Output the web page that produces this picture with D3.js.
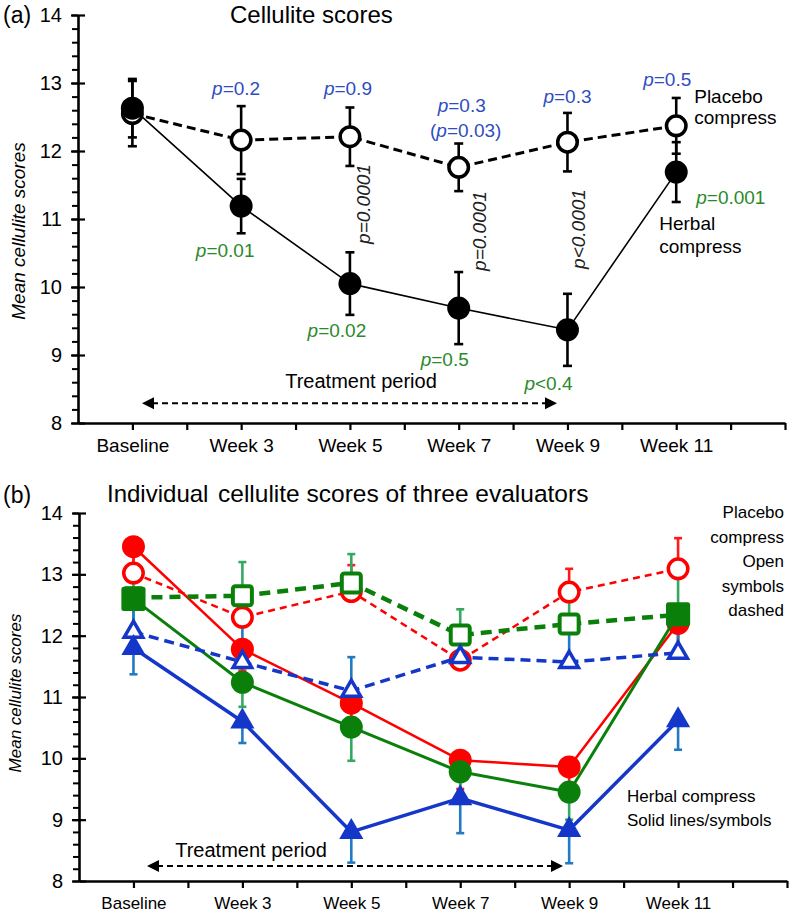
<!DOCTYPE html>
<html><head><meta charset="utf-8">
<script src="https://cdn.jsdelivr.net/npm/d3@7"></script>
<style>
body{margin:0;background:#fff}
svg{display:block}
text{font-family:"Liberation Sans",Arial,Helvetica,sans-serif}
</style>
</head><body>
<svg id="chart" width="792" height="915"></svg>
<script>
// ---------------- DATA ----------------
const categories = ["Baseline", "Week 3", "Week 5", "Week 7", "Week 9", "Week 11"];
const catSlots = [1, 3, 5, 7, 9, 11];          // slot of each category on a 0–13 axis
const yTickValues = [8, 9, 10, 11, 12, 13, 14];
const yMinorValues = d3.range(8, 14.001, 0.2);

// Panel (a): mean cellulite scores
const aPlacebo    = [12.55, 12.16, 12.21, 11.76, 12.13, 12.37];
const aPlaceboErr = [0.48, 0.50, 0.43, 0.35, 0.43, 0.41];
const aHerbal     = [12.63, 11.19, 10.05, 9.69, 9.37, 11.69];
const aHerbalErr  = [0.43, 0.40, 0.46, 0.53, 0.53, 0.44];

// Panel (b): three evaluators (herbal = solid/filled, lower error; placebo = dashed/open, upper error)
const bRedHerbal       = [13.45, 11.78, 10.90, 9.97, 9.86, 12.20];
const bRedHerbalErr    = [0.40, 0.35, 0.35, 0.47, 0.40, 0.45];
const bGreenHerbal     = [12.60, 11.24, 10.51, 9.78, 9.45, 12.35];
const bGreenHerbalErr  = [0.55, 0.40, 0.55, 0.40, 0.45, 0.60];
const bBlueHerbal      = [11.80, 10.60, 8.80, 9.35, 8.83, 10.62];
const bBlueHerbalErr   = [0.43, 0.35, 0.50, 0.57, 0.54, 0.48];
const bRedPlacebo      = [13.02, 12.30, 12.72, 11.60, 12.71, 13.09];
const bRedPlaceboErr   = [0.40, 0.40, 0.43, 0.45, 0.38, 0.50];
const bGreenPlacebo    = [12.62, 12.65, 12.86, 12.01, 12.19, 12.34];
const bGreenPlaceboErr = [0.35, 0.55, 0.47, 0.42, 0.45, 0.65];
const bBluePlacebo     = [12.06, 11.57, 11.10, 11.65, 11.57, 11.72];
const bBluePlaceboErr  = [0.50, 0.60, 0.55, 0.30, 0.50, 0.50];
const bGreenHerbalShapes = ["square", "circle", "circle", "circle", "circle", "square"];

// p-value annotations (panel a)
const placeboP   = ["p=0.2", "p=0.9", "p=0.3", "p=0.3", "p=0.5"];
const herbalP    = ["p=0.01", "p=0.02", "p=0.5", "p<0.4", "p=0.001"];
const betweenP   = ["p=0.0001", "p=0.0001", "p<0.0001"];

// ---------------- DRAWING ----------------
const svg = d3.select("#chart");
const FONT = '"Liberation Sans",Arial,Helvetica,sans-serif';
const BLUE_TXT = "#2f4dbf", GREEN_TXT = "#2a8a2a";

function pText(g, x, y, str, color, size, anchor) {
  const i = str.indexOf("p");
  const t = g.append("text").attr("x", x).attr("y", y)
    .attr("font-size", size).attr("fill", color).attr("text-anchor", anchor || "middle");
  if (i > 0) t.append("tspan").text(str.slice(0, i));
  t.append("tspan").attr("font-style", "italic").text("p");
  t.append("tspan").text(str.slice(i + 1));
  return t;
}

function axes(g, x, y, tickFont, labelFont) {
  // y minor ticks (left side only)
  const gm = g.append("g").attr("transform", `translate(${x(0)},0)`)
    .call(d3.axisLeft(y).tickValues(yMinorValues).tickSize(6).tickFormat(""));
  gm.select(".domain").remove();
  gm.selectAll(".tick line").attr("stroke-width", 2);
  // y major ticks (crossing)
  const gy = g.append("g").attr("transform", `translate(${x(0)},0)`)
    .call(d3.axisLeft(y).tickValues(yTickValues).tickSizeInner(7).tickSizeOuter(0)
      .tickPadding(9).tickFormat(d3.format("d")));
  gy.attr("font-family", FONT).attr("font-size", tickFont);
  gy.select(".domain").attr("stroke-width", 2.6);
  gy.selectAll(".tick line").attr("x1", 7).attr("x2", -7).attr("stroke-width", 2.2);
  // x axis
  const gx = g.append("g").attr("transform", `translate(0,${y(8)})`)
    .call(d3.axisBottom(x).tickValues(d3.range(1, 14)).tickSizeInner(7).tickSizeOuter(0)
      .tickPadding(8.5)
      .tickFormat(v => { const k = catSlots.indexOf(v); return k >= 0 ? categories[k] : ""; }));
  gx.attr("font-family", FONT).attr("font-size", labelFont);
  gx.select(".domain").attr("stroke-width", 2.6);
  gx.selectAll(".tick line").attr("stroke-width", 2.2);
}

function errorBars(g, x, y, vals, errs, dir, color, width, cap) {
  vals.forEach((v, i) => {
    const cx = x(catSlots[i]);
    const lo = dir > 0 ? v : v - errs[i];
    const hi = dir < 0 ? v : v + errs[i];
    g.append("line").attr("x1", cx).attr("x2", cx).attr("y1", y(lo)).attr("y2", y(hi))
      .attr("stroke", color).attr("stroke-width", width);
    if (dir >= 0) g.append("line").attr("x1", cx - cap).attr("x2", cx + cap)
      .attr("y1", y(hi)).attr("y2", y(hi)).attr("stroke", color).attr("stroke-width", width);
    if (dir <= 0) g.append("line").attr("x1", cx - cap).attr("x2", cx + cap)
      .attr("y1", y(lo)).attr("y2", y(lo)).attr("stroke", color).attr("stroke-width", width);
  });
}

function seriesLine(g, x, y, vals, color, width, dash) {
  const line = d3.line().x((d, i) => x(catSlots[i])).y(d => y(d));
  g.append("path").attr("d", line(vals)).attr("fill", "none")
    .attr("stroke", color).attr("stroke-width", width)
    .attr("stroke-dasharray", dash || null).attr("stroke-linejoin", "round");
}

function markers(g, x, y, vals, shapes, filled, color, size, sw) {
  vals.forEach((v, i) => {
    const cx = x(catSlots[i]), cy = y(v);
    const shape = Array.isArray(shapes) ? shapes[i] : shapes;
    const fill = filled ? color : "#fff";
    if (shape === "circle") {
      g.append("circle").attr("cx", cx).attr("cy", cy).attr("r", filled ? size : size - sw / 2)
        .attr("fill", fill).attr("stroke", filled ? "none" : color).attr("stroke-width", sw);
    } else if (shape === "square") {
      const s = filled ? size * 2.1 : size * 2 - sw;
      g.append("rect").attr("x", cx - s / 2).attr("y", cy - s / 2).attr("width", s).attr("height", s)
        .attr("rx", 2.5).attr("fill", fill).attr("stroke", filled ? "none" : color).attr("stroke-width", sw);
    } else {
      const side = filled ? size * 2.2 : size * 2.2 - sw * 1.6;
      const area = Math.sqrt(3) / 4 * side * side;
      g.append("path").attr("transform", `translate(${cx},${cy})`)
        .attr("d", d3.symbol(d3.symbolTriangle, area)())
        .attr("fill", fill).attr("stroke", filled ? "none" : color).attr("stroke-width", sw)
        .attr("stroke-linejoin", "miter");
    }
  });
}

// ===== Panel (a) =====
{
  const x = d3.scaleLinear().domain([0, 13]).range([78, 785]);
  const y = d3.scaleLinear().domain([8, 14]).range([423, 15]);
  const g = svg.append("g");
  axes(g, x, y, 20, 19);

  g.append("text").attr("x", 3).attr("y", 23).attr("font-size", 23).text("(a)");
  g.append("text").attr("x", 230).attr("y", 23).attr("font-size", 24).text("Cellulite scores");
  g.append("text").attr("transform", `translate(25,231) rotate(-90)`).attr("text-anchor", "middle")
    .attr("font-size", 19).attr("font-style", "italic").text("Mean cellulite scores");

  errorBars(g, x, y, aPlacebo, aPlaceboErr, 0, "#000", 2.6, 4.5);
  errorBars(g, x, y, aHerbal, aHerbalErr, 0, "#000", 2.6, 4.5);
  seriesLine(g, x, y, aPlacebo, "#000", 3, "9,5");
  seriesLine(g, x, y, aHerbal, "#000", 1.6, null);
  markers(g, x, y, aPlacebo, "circle", false, "#000", 11.5, 3.5);
  markers(g, x, y, aHerbal, "circle", true, "#000", 11.5, 0);

  // placebo p-values (Week 3..Week 11)
  const pa = [[-5, 12.82], [-2, 12.82], [3, 12.57], [0, 12.71], [-9, 12.95]];
  placeboP.forEach((s, k) => pText(g, x(catSlots[k + 1]) + pa[k][0], y(pa[k][1]), s, BLUE_TXT, 19));
  pText(g, x(7) + 7, y(12.21), "(p=0.03)", BLUE_TXT, 19);
  // herbal p-values
  const ha = [[-16, 10.44, "middle"], [-13, 9.26, "middle"], [-14, 8.84, "middle"], [-19, 8.49, "middle"], [20, 11.22, "start"]];
  herbalP.forEach((s, k) => pText(g, x(catSlots[k + 1]) + ha[k][0], y(ha[k][1]), s, GREEN_TXT, 19, ha[k][2]));
  // between-group p-values (rotated)
  const ba = [[5, 20, 204], [7, 27, 231], [9, 18, 229]];
  betweenP.forEach((s, k) => {
    g.append("text").attr("transform", `translate(${x(ba[k][0]) + ba[k][1]},${ba[k][2]}) rotate(-90)`)
      .attr("text-anchor", "middle").attr("font-size", 19).attr("font-style", "italic")
      .attr("fill", "#222").text(s);
  });
  // series labels
  g.append("text").attr("x", x(11) + 18).attr("y", y(12.71)).attr("font-size", 19).text("Placebo");
  g.append("text").attr("x", x(11) + 18).attr("y", y(12.40)).attr("font-size", 19).text("compress");
  g.append("text").attr("x", x(11) - 17).attr("y", y(10.84)).attr("font-size", 19).text("Herbal");
  g.append("text").attr("x", x(11) - 17).attr("y", y(10.50)).attr("font-size", 19).text("compress");
  // treatment period
  g.append("text").attr("x", 361).attr("y", y(8.51)).attr("text-anchor", "middle").attr("font-size", 20).text("Treatment period");
  drawArrow(g, 142, 557, y(8.29));
}

function drawArrow(g, x1, x2, yy) {
  g.append("line").attr("x1", x1 + 10).attr("x2", x2 - 10).attr("y1", yy).attr("y2", yy)
    .attr("stroke", "#000").attr("stroke-width", 2).attr("stroke-dasharray", "6,4");
  g.append("path").attr("d", `M${x1},${yy}L${x1 + 12},${yy - 6}L${x1 + 12},${yy + 6}Z`).attr("fill", "#000");
  g.append("path").attr("d", `M${x2},${yy}L${x2 - 12},${yy - 6}L${x2 - 12},${yy + 6}Z`).attr("fill", "#000");
}

// ===== Panel (b) =====
{
  const x = d3.scaleLinear().domain([0, 13]).range([79, 787]);
  const y = d3.scaleLinear().domain([8, 14]).range([881, 513]);
  const g = svg.append("g");
  axes(g, x, y, 20, 17);

  g.append("text").attr("x", 3).attr("y", 503).attr("font-size", 23).text("(b)");
  g.append("text").attr("x", 107).attr("y", 502).attr("font-size", 24).text("Individual");
  g.append("text").attr("x", 218).attr("y", 502).attr("font-size", 24.5).text("cellulite scores of three evaluators");
  g.append("text").attr("transform", `translate(21,693) rotate(-90)`).attr("text-anchor", "middle")
    .attr("font-size", 17).attr("font-style", "italic").text("Mean cellulite scores");

  const RED = "#ff0000", GREEN = "#0a800a", BLUE = "#1537c9";
  const RED_E = "#ff1a1a", GREEN_E = "#35a862", BLUE_E = "#2279c4";

  errorBars(g, x, y, bRedPlacebo, bRedPlaceboErr, 1, RED_E, 2.6, 4);
  errorBars(g, x, y, bRedHerbal, bRedHerbalErr, -1, RED_E, 2.6, 4);
  errorBars(g, x, y, bGreenPlacebo, bGreenPlaceboErr, 1, GREEN_E, 2.6, 4);
  errorBars(g, x, y, bGreenHerbal, bGreenHerbalErr, -1, GREEN_E, 2.6, 4);
  errorBars(g, x, y, bBluePlacebo, bBluePlaceboErr, 1, BLUE_E, 2.6, 4);
  errorBars(g, x, y, bBlueHerbal, bBlueHerbalErr, -1, BLUE_E, 2.6, 4);

  // red evaluator
  seriesLine(g, x, y, bRedPlacebo, RED, 2.5, "7,5");
  seriesLine(g, x, y, bRedHerbal, RED, 2.5, null);
  markers(g, x, y, bRedPlacebo, "circle", false, RED, 11.5, 3.5);
  markers(g, x, y, bRedHerbal, "circle", true, RED, 11.5, 0);
  // green evaluator
  seriesLine(g, x, y, bGreenPlacebo, GREEN, 4.5, "11,7");
  seriesLine(g, x, y, bGreenHerbal, GREEN, 3, null);
  markers(g, x, y, bGreenPlacebo, "square", false, GREEN, 11.5, 4);
  markers(g, x, y, bGreenHerbal, bGreenHerbalShapes, true, GREEN, 11.5, 0);
  // blue evaluator
  seriesLine(g, x, y, bBluePlacebo, BLUE, 3.5, "10,6");
  seriesLine(g, x, y, bBlueHerbal, BLUE, 3.5, null);
  markers(g, x, y, bBluePlacebo, "triangle", false, BLUE, 11, 3.5);
  markers(g, x, y, bBlueHerbal, "triangle", true, BLUE, 11, 0);

  // legend notes
  ["Placebo", "compress", "Open", "symbols", "dashed"].forEach((s, k) => {
    g.append("text").attr("x", 784).attr("y", 518 + k * 24.5).attr("text-anchor", "end")
      .attr("font-size", 17).text(s);
  });
  g.append("text").attr("x", 627).attr("y", 802).attr("font-size", 17).text("Herbal compress");
  g.append("text").attr("x", 627).attr("y", 826).attr("font-size", 17).text("Solid lines/symbols");

  g.append("text").attr("x", 251).attr("y", 857).attr("text-anchor", "middle").attr("font-size", 20).text("Treatment period");
  drawArrow(g, 147, 563, 866);
}
</script>
</body></html>
